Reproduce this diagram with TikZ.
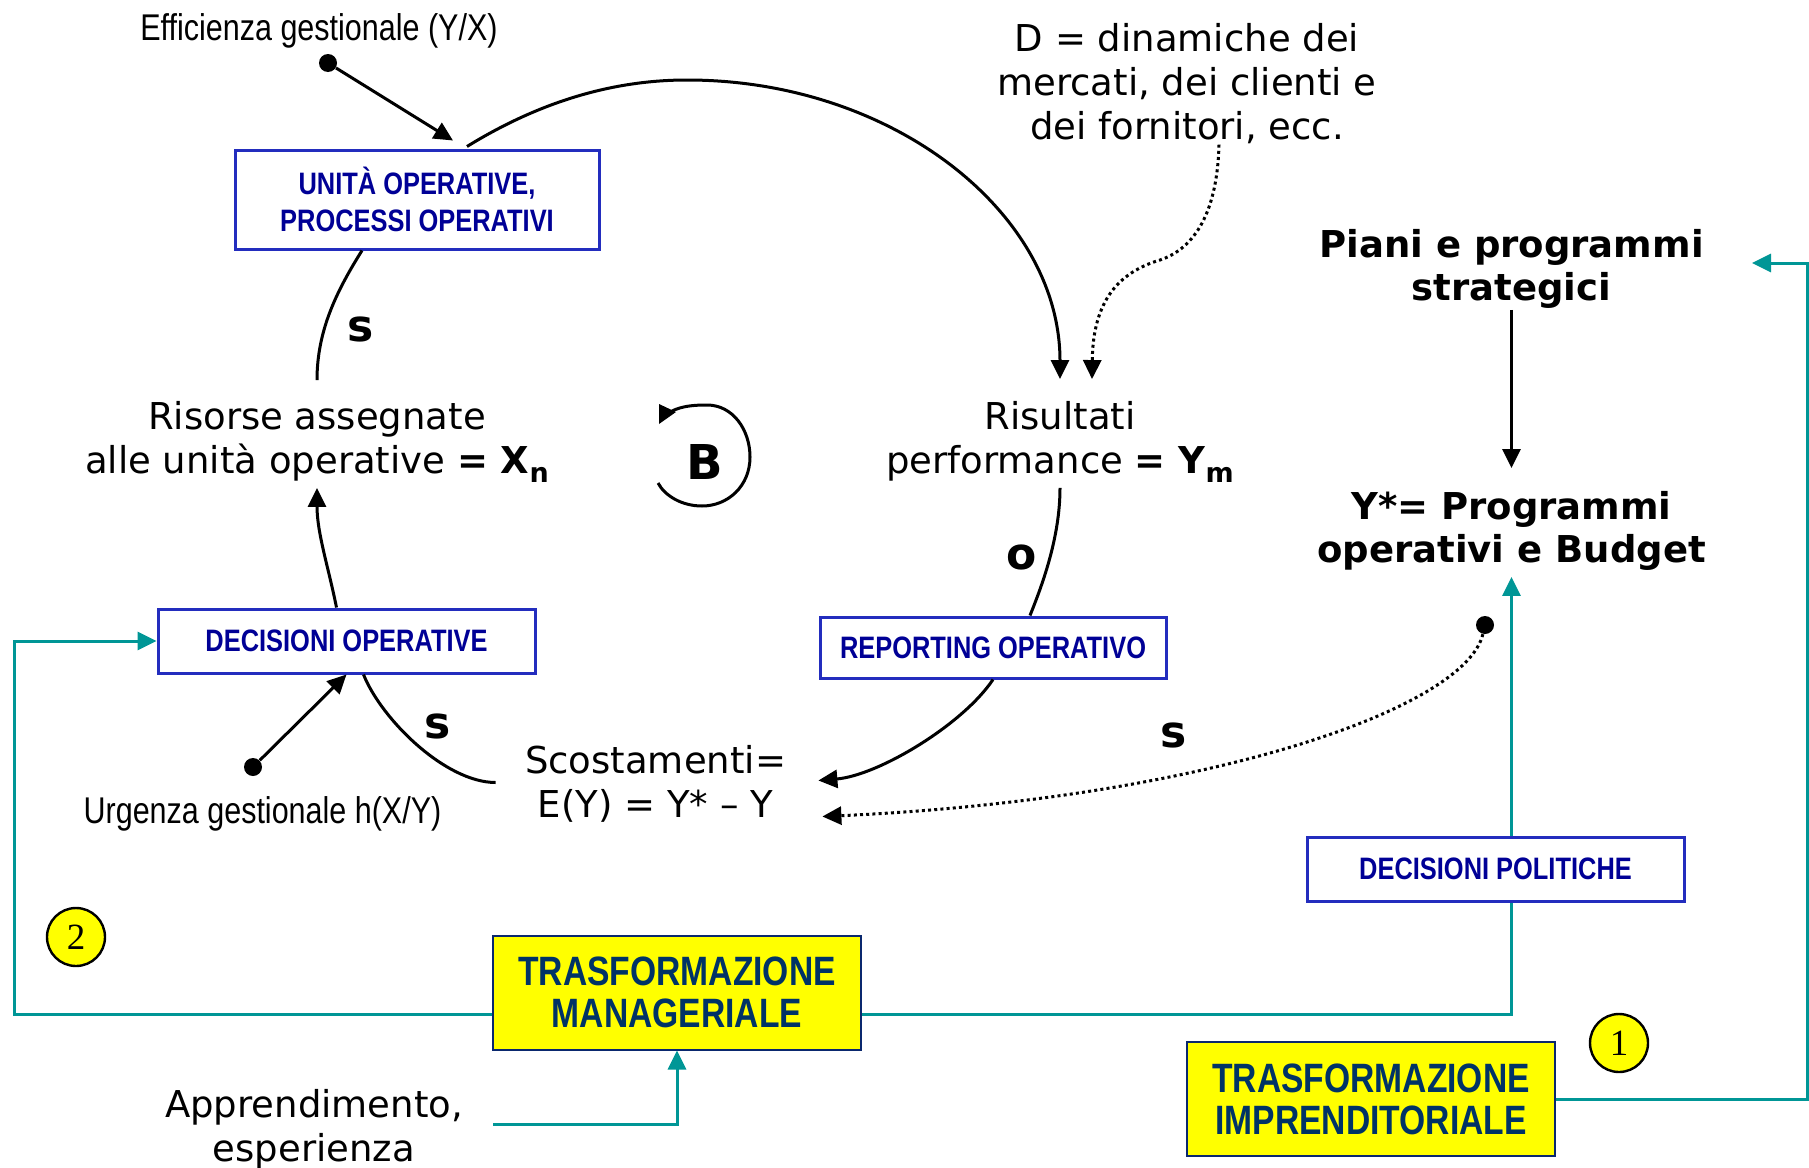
\documentclass[tikz,border=0pt]{standalone}
\usepackage{fontspec}
\setmainfont{DejaVu Sans}
\newfontfamily\narrowfont[FakeStretch=0.82]{Liberation Sans}
\newfontfamily\numfont{Liberation Serif}
\usetikzlibrary{arrows.meta,calc}
\definecolor{boxblue}{RGB}{35,45,190}
\definecolor{boxtext}{RGB}{0,0,150}
\definecolor{flowteal}{RGB}{0,150,150}
\definecolor{yelfill}{RGB}{255,255,0}
\definecolor{yeltext}{RGB}{0,51,102}
\definecolor{yelbord}{RGB}{10,40,110}

\begin{document}
\begin{tikzpicture}[x=0.5pt,y=-0.5pt,
  lbl/.style={font=\fontsize{18.5}{22}\selectfont, align=center, inner sep=0pt},
  blbl/.style={font=\bfseries\fontsize{18.5}{21.5}\selectfont, align=center, inner sep=0pt},
  nlbl/.style={font=\narrowfont\fontsize{18.6}{22}\selectfont, inner sep=0pt},
  pol/.style={font=\bfseries\fontsize{22}{22}\selectfont, inner sep=0pt},
  bluebox/.style={draw=boxblue, line width=1.5pt, fill=white, text=boxtext,
    font=\narrowfont\bfseries\fontsize{15.5}{18.5}\selectfont, align=center, inner sep=0pt},
  yelbox/.style={draw=yelbord, line width=1pt, fill=yelfill, text=yeltext,
    font=\narrowfont\bfseries\fontsize{20.5}{21}\selectfont, align=center, inner sep=0pt,
    minimum width=184pt, minimum height=57pt},
  numc/.style={circle, draw=black, line width=1.2pt, fill=yelfill, minimum size=29pt,
    inner sep=0pt, font=\numfont\fontsize{18.5}{18.5}\selectfont},
  dotn/.style={circle, fill=black, minimum size=9pt, inner sep=0pt},
  arr/.style={line width=1.5pt, -{Triangle[length=9.5pt,width=9pt]}},
  link/.style={line width=1.5pt},
  dotarr/.style={line width=1.5pt, dash pattern=on 1.5pt off 1.6pt, -{Triangle[length=9.5pt,width=9pt]}},
  tarr/.style={line width=1.5pt, draw=flowteal, -{Triangle[length=9.5pt,width=9pt]}},
  tlink/.style={line width=1.5pt, draw=flowteal}]

\fill[white] (0,0) rectangle (1809,1167);
\useasboundingbox (0,0) rectangle (1809,1167);

% ---- nodes ----
\node[nlbl] (eff) at (319,30.5) {Efficienza gestionale (Y/X)};
\node[dotn] (effdot) at (328,63) {};
\node[bluebox, minimum width=182pt, minimum height=49.5pt] (unita) at (417,199.5) {UNITÀ OPERATIVE,\\PROCESSI OPERATIVI};

\node[lbl] (risorse) at (317,442) {Risorse assegnate\\alle unità operative {\bfseries = X\raisebox{-4.5pt}{\fontsize{13.5}{13.5}\selectfont n}}};
\node[lbl] (risultati) at (1060,442) {Risultati\\performance {\bfseries = Y\raisebox{-4.5pt}{\fontsize{13.5}{13.5}\selectfont m}}};
\node[font=\bfseries\fontsize{24}{24}\selectfont, inner sep=0pt] (bsym) at (705,462) {B};

\node[lbl] (dtext) at (1187,84) {D = dinamiche dei\\mercati, dei clienti e\\dei fornitori, ecc.};
\node[blbl] (piani) at (1511.5,269) {Piani e programmi\\strategici};
\node[blbl] (ystar) at (1511.5,531) {Y*= Programmi\\operativi e Budget};

\node[bluebox, minimum width=188.5pt, minimum height=32pt] (decop) at (346.5,641) {DECISIONI OPERATIVE};
\node[bluebox, minimum width=173pt, minimum height=30.5pt] (reporting) at (993,647.5) {REPORTING OPERATIVO};
\node[bluebox, minimum width=188.5pt, minimum height=32pt] (decpol) at (1495.5,869) {DECISIONI POLITICHE};

\node[dotn] (urgdot) at (253,767) {};
\node[nlbl] (urg) at (262.5,813.5) {Urgenza gestionale h(X/Y)};
\node[lbl] (scost) at (655.5,783.5) {Scostamenti=\\E(Y) = Y* – Y};
\node[dotn] (ydot) at (1485,625) {};

\node[yelbox] (trmgr) at (677,992.5) {TRASFORMAZIONE\\MANAGERIALE};
\node[yelbox] (trimp) at (1371,1099) {TRASFORMAZIONE\\IMPRENDITORIALE};
\node[lbl] (appr) at (314,1129) {Apprendimento,\\esperienza};
\node[numc] (n2) at (76,937) {2};
\node[numc] (n1) at (1619,1043) {1};

\node[pol] (s1) at (361,329) {s};
\node[pol] (s2) at (438,726) {s};
\node[pol] (o1) at (1022,557) {o};
\node[pol] (s3) at (1174,735) {s};

\coordinate (arctop) at (687,80);
\coordinate (dbend) at (1160,260);
\coordinate (leftrail) at (14.5,800);
\coordinate (rightrail) at (1807,600);

% ---- balancing loop marker ----
\draw[line width=1.5pt] (672,411) .. controls (682,406) and (694,405) .. (707,405)
  .. controls (733,405) and (750,430) .. (750,457)
  .. controls (750,486) and (728,506) .. (702,506)
  .. controls (682,506) and (665,496) .. (658,483);
\fill (659,404) -- (676,412) -- (659,424) -- cycle;

% ---- black connectors ----
\draw[arr] (effdot) -- ($(unita.north)+(36,-8)$);
\draw[arr] ($(unita.north)+(50,-2)$) .. controls +(65,-40) and +(-82,0) .. (arctop)
  .. controls +(206,0) and +(0,-166) .. ($(risultati.north)+(0,-22)$);
\draw[link] ($(risorse.north)+(0,-21)$) .. controls +(0,-50) and +(-25,40) .. ($(unita.south)+(-55,0)$);
\draw[arr] ($(decop.north)+(-10,0)$) .. controls +(-8,-40) and +(0,45) .. ($(risorse.south)+(0,5)$);
\draw[arr] (urgdot) -- (decop.south);
\draw[link] ($(decop.south)+(17,0)$) .. controls +(18,45) and +(-50,0) .. ($(scost.west)+(-29,-1)$);
\draw[link] ($(risultati.south)+(0,5)$) .. controls +(0,50) and +(12,-30) .. ($(reporting.north)+(37,0)$);
\draw[arr] (reporting.south) .. controls +(-30,45) and +(60,-5) .. ($(scost.east)+(32,-3)$);
\draw[dotarr] (ydot) .. controls +(-20,85) and +(378,-17) .. ($(scost.east)+(36,33)$);
\draw[dotarr] ($(dtext.south)+(32,0)$) .. controls +(-2,75) and +(30,-10) .. (dbend)
  .. controls +(-40,12) and +(1,-80) .. ($(risultati.north)+(32,-22)$);
\draw[arr] ($(piani.south)+(0,1)$) -- ($(ystar.north)+(0,-23)$);

% ---- teal connectors ----
\draw[tarr] ($(decpol.north)+(16,0)$) -- ($(ystar.south)+(0,6)$);
\draw[tlink] ($(decpol.south)+(16,0)$) |- ($(trmgr.east)+(0,22)$);
\draw[tarr] ($(trmgr.west)+(0,22)$) -| (leftrail) |- (decop.west);
\draw[tarr] ($(appr.east)+(30,-5)$) -| (trmgr.south);
\draw[tarr] (trimp.east) -| (rightrail) |- ($(piani.east)+(48,-6)$);

\end{tikzpicture}
\end{document}
